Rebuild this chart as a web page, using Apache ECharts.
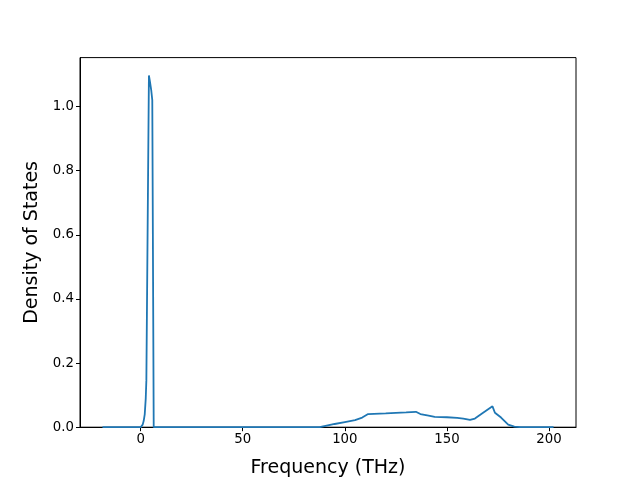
<!DOCTYPE html>
<html>
<head>
<meta charset="utf-8">
<script src="https://cdn.jsdelivr.net/npm/echarts@6/dist/echarts.min.js"></script>
<style>html,body{margin:0;padding:0;background:#fff}#c{width:640px;height:480px}</style>
</head>
<body>
<div id="c"></div>
<script>
const freq = [-18.7, -5, 0, 0.5, 1.0, 1.5, 2.0, 2.5, 2.8, 4.05, 4.5, 5.2, 5.7, 6.4, 20, 87.7, 95, 100, 105, 108.5, 111.4, 120, 130, 134.8, 137, 141, 144, 150, 155, 158, 161.3, 163.7, 167, 172.3, 173.5, 176.5, 180, 183, 186, 202.2];
const dos  = [0, 0, 0, 0.002, 0.008, 0.02, 0.04, 0.09, 0.146, 1.097, 1.08, 1.05, 1.02, 0, 0, 0, 0.01, 0.016, 0.022, 0.03, 0.041, 0.043, 0.046, 0.048, 0.041, 0.036, 0.032, 0.031, 0.029, 0.027, 0.023, 0.027, 0.042, 0.065, 0.045, 0.03, 0.008, 0.002, 0, 0];
const xTicks = [0, 50, 100, 150, 200];
const yTicks = [0, 0.2, 0.4, 0.6, 0.8, 1.0];
const xLabel = 'Frequency (THz)';
const yLabel = 'Density of States';

const chart = echarts.init(document.getElementById('c'), null, {renderer: 'canvas'});
const font = 'DejaVu Sans';
chart.setOption({
  animation: false,
  backgroundColor: '#fff',
  grid: {left: 80, right: 64, top: 57.6, bottom: 52.8, show: true, borderColor: '#000', borderWidth: 1, backgroundColor: 'transparent', containLabel: false, outerBoundsMode: 'none'},
  xAxis: {
    type: 'value', min: -29.7, max: 213.2,
    name: xLabel, nameLocation: 'middle', nameGap: 31,
    nameTextStyle: {fontFamily: font, fontSize: 19, color: '#000'},
    axisLine: {show: true, onZero: false, lineStyle: {color: '#000', width: 1}},
    axisTick: {show: true, inside: false, length: 4, lineStyle: {color: '#000'}, customValues: xTicks},
    axisLabel: {show: true, fontFamily: font, fontSize: 13.3, color: '#000', margin: 6, customValues: xTicks},
    splitLine: {show: false}
  },
  yAxis: {
    type: 'value', min: 0, max: 1.1525,
    name: yLabel, nameLocation: 'middle', nameGap: 36, nameRotate: 90,
    nameTextStyle: {fontFamily: font, fontSize: 19, color: '#000'},
    axisLine: {show: true, onZero: false, lineStyle: {color: '#000', width: 1}},
    axisTick: {show: true, inside: false, length: 4, lineStyle: {color: '#000'}, customValues: yTicks},
    axisLabel: {show: true, fontFamily: font, fontSize: 13.3, color: '#000', margin: 6, customValues: yTicks, formatter: v => v.toFixed(1)},
    splitLine: {show: false}
  },
  series: [{
    type: 'line',
    data: freq.map((f, i) => [f, dos[i]]),
    showSymbol: false,
    symbol: 'none',
    lineStyle: {color: '#1f77b4', width: 1.8},
    clip: true
  }]
});
</script>
</body>
</html>
